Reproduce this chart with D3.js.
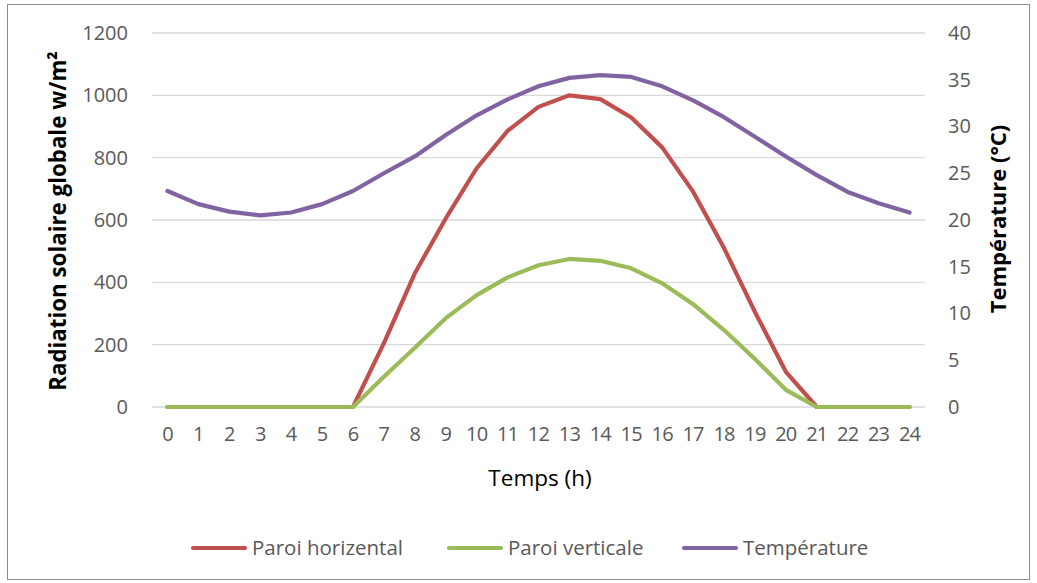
<!DOCTYPE html>
<html><head><meta charset="utf-8">
<script src="https://cdn.jsdelivr.net/npm/d3@7"></script>
<style>body{margin:0;background:#fff;} svg{display:block;}</style>
</head><body>
<script>
const hours = ["0","1","2","3","4","5","6","7","8","9","10","11","12","13","14","15","16","17","18","19","20","21","22","23","24"];
const paroiHorizental = [0,0,0,0,0,0,0,205,429,605,766,886,963,1000,988,929,833,691,510,305,113,0,0,0,0];
const paroiVerticale = [0,0,0,0,0,0,0,97,190,285,359,416,455,475,469,445,397,330,247,154,55,0,0,0,0];
const temperature = [23.1,21.7,20.9,20.5,20.8,21.7,23.1,25,26.8,29.1,31.2,32.9,34.3,35.2,35.5,35.3,34.3,32.8,31.0,28.9,26.8,24.8,23.0,21.8,20.8];
const leftTicks = [0,200,400,600,800,1000,1200];
const rightTicks = [0,5,10,15,20,25,30,35,40];
const seriesNames = ["Paroi horizental","Paroi verticale","Température"];
const colors = ["#c0504d","#9bbb59","#8064a2"];

const W=1037,H=583;
const font = "'Open Sans', Lato, sans-serif";
const svg = d3.select("body").append("svg").attr("width",W).attr("height",H);
svg.append("rect").attr("x",7.5).attr("y",4.5).attr("width",1022).attr("height",575)
  .attr("fill","#fff").attr("stroke","#8c8c8c").attr("stroke-width",1);

const L=152,R=925,T=33,B=407;
const x = d3.scaleBand().domain(hours).range([L,R]);
const yL = d3.scaleLinear().domain([0,1200]).range([B,T]);
const yR = d3.scaleLinear().domain([0,40]).range([B,T]);

svg.append("g").selectAll("line").data(leftTicks).join("line")
  .attr("x1",L).attr("x2",R).attr("y1",d=>yL(d)).attr("y2",d=>yL(d))
  .attr("stroke","#d9d9d9").attr("stroke-width",1.3);

const tickFont = 20;
const gL = svg.append("g").attr("transform",`translate(${L},0)`)
  .call(d3.axisLeft(yL).tickValues(leftTicks).tickFormat(d3.format("d")).tickSize(0).tickPadding(24));
gL.select(".domain").remove();
gL.selectAll("text").attr("font-family",font).attr("font-size",tickFont).attr("fill","#595959");

const gR = svg.append("g").attr("transform",`translate(${R},0)`)
  .call(d3.axisRight(yR).tickValues(rightTicks).tickFormat(d3.format("d")).tickSize(0).tickPadding(23));
gR.select(".domain").remove();
gR.selectAll("text").attr("font-family",font).attr("font-size",tickFont).attr("fill","#595959");

const gX = svg.append("g").attr("transform",`translate(0,${B})`)
  .call(d3.axisBottom(x).tickSize(0).tickPadding(20));
gX.select(".domain").remove();
gX.selectAll("text").attr("font-family",font).attr("font-size",tickFont).attr("fill","#595959")
  .attr("letter-spacing","-0.8px");

svg.append("text").attr("transform",`translate(66,221) rotate(-90)`).attr("text-anchor","middle")
  .attr("font-family",font).attr("font-size",22.3).attr("font-weight","bold").attr("fill","#000")
  .text("Radiation solaire globale w/m²");
svg.append("text").attr("transform",`translate(1006,219) rotate(-90)`).attr("text-anchor","middle")
  .attr("font-family",font).attr("font-size",22).attr("font-weight","bold").attr("fill","#000")
  .text("Température (°C)");
svg.append("text").attr("x",540).attr("y",486).attr("text-anchor","middle")
  .attr("font-family",font).attr("font-size",22.5).attr("fill","#000").text("Temps (h)");

const cx = d=>x(d)+x.bandwidth()/2;
const lineL = d3.line().x((d,i)=>cx(hours[i])).y(d=>yL(d));
const lineR = d3.line().x((d,i)=>cx(hours[i])).y(d=>yR(d));
[[paroiHorizental,lineL,0],[paroiVerticale,lineL,1],[temperature,lineR,2]].forEach(([data,gen,i])=>{
  svg.append("path").datum(data).attr("d",gen).attr("fill","none")
    .attr("stroke",colors[i]).attr("stroke-width",4.2)
    .attr("stroke-linejoin","round").attr("stroke-linecap","round");
});

const legX = [193,449,684];
seriesNames.forEach((n,i)=>{
  const g = svg.append("g");
  g.append("line").attr("x1",legX[i]).attr("x2",legX[i]+52).attr("y1",548).attr("y2",548)
    .attr("stroke",colors[i]).attr("stroke-width",4.2).attr("stroke-linecap","round");
  g.append("text").attr("x",legX[i]+59).attr("y",555).attr("font-family",font).attr("font-size",20.5)
    .attr("fill","#595959").text(n);
});
</script>
</body></html>
